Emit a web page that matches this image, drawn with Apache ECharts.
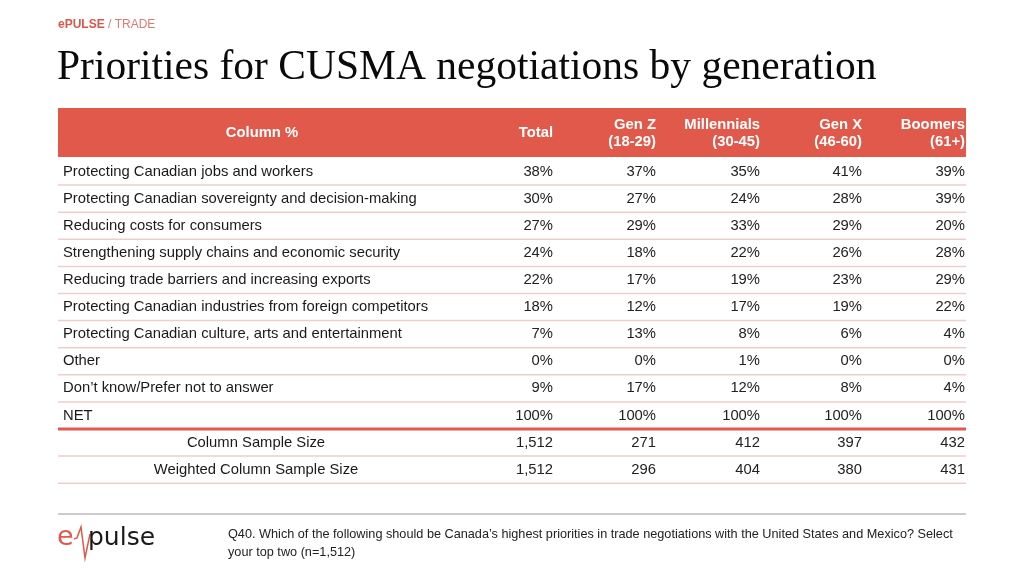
<!DOCTYPE html>
<html>
<head>
<meta charset="utf-8">
<script src="https://cdn.jsdelivr.net/npm/echarts@6/dist/echarts.min.js"></script>
<style>
html, body { margin: 0; padding: 0; background: #fff; }
#main { width: 1024px; height: 576px; }
</style>
</head>
<body>
<div id="main"></div>
<script>
// 表格数据
var categories = [
    'Protecting Canadian jobs and workers',
    'Protecting Canadian sovereignty and decision-making',
    'Reducing costs for consumers',
    'Strengthening supply chains and economic security',
    'Reducing trade barriers and increasing exports',
    'Protecting Canadian industries from foreign competitors',
    'Protecting Canadian culture, arts and entertainment',
    'Other',
    'Don\u2019t know/Prefer not to answer',
    'NET'
];
var columns = ['Total', 'Gen Z\n(18-29)', 'Millennials\n(30-45)', 'Gen X\n(46-60)', 'Boomers\n(61+)'];
var total       = [38, 30, 27, 24, 22, 18, 7, 0, 9, 100];
var genZ        = [37, 27, 29, 18, 17, 12, 13, 0, 17, 100];
var millennials = [35, 24, 33, 22, 19, 17, 8, 1, 12, 100];
var genX        = [41, 28, 29, 26, 23, 19, 6, 0, 8, 100];
var boomers     = [39, 39, 20, 28, 29, 22, 4, 0, 4, 100];
var sampleLabels = ['Column Sample Size', 'Weighted Column Sample Size'];
var sampleSize   = [1512, 271, 412, 397, 432];
var weightedSize = [1512, 296, 404, 380, 431];

var series5 = [total, genZ, millennials, genX, boomers];
var rowNames = categories.concat(sampleLabels);

// 列右边界（x轴上的位置）
var colRight = [495, 598, 702, 804, 907];
var TABLE_W = 908;
var RED = '#E0594A';
var BODY_FONT = '14.8px "Liberation Sans"';

function fmt(n) {
    return n.toLocaleString('en-US');
}

function cellValues(i) {
    if (i < categories.length) {
        return series5.map(function (s) { return s[i] + '%'; });
    }
    var src = i === categories.length ? sampleSize : weightedSize;
    return src.map(fmt);
}

var myChart = echarts.init(document.getElementById('main'));

var option = {
    backgroundColor: '#fff',
    animation: false,
    grid: { left: 58, right: 58, top: 158, height: 12 * 27.1 },
    xAxis: { type: 'value', min: 0, max: TABLE_W, show: false },
    yAxis: { type: 'category', data: rowNames, inverse: true, show: false },
    graphic: [
        { type: 'text', left: 58, top: 19, style: {
            text: '{a|ePULSE}{b| / TRADE}',
            rich: {
                a: { fontFamily: 'Liberation Sans', fontSize: 12, fontWeight: 'bold', fill: '#D9574A' },
                b: { fontFamily: 'Liberation Sans', fontSize: 12, fill: '#E07A70' }
            }
        } },
        { type: 'text', left: 57, top: 47, style: {
            text: 'Priorities for CUSMA negotiations by generation',
            font: '41.5px "Liberation Serif"', fill: '#0a0a0a'
        } },
        { type: 'rect', shape: { x: 58, y: 108, width: TABLE_W, height: 49 }, style: { fill: RED } },
        { type: 'text', x: 262, y: 133, style: {
            text: 'Column %', font: 'bold 14.8px "Liberation Sans"', fill: '#fff',
            align: 'center', verticalAlign: 'middle'
        } }
    ].concat(columns.map(function (c, j) {
        return { type: 'text', x: 58 + colRight[j], y: 133, style: {
            text: c, font: 'bold 14.8px "Liberation Sans"', fill: '#fff',
            align: 'right', verticalAlign: 'middle', lineHeight: 17
        } };
    })).concat([
        { type: 'line', shape: { x1: 58, y1: 514, x2: 966, y2: 514 }, style: { stroke: '#999', lineWidth: 1 } },
        { type: 'text', x: 57, y: 538, style: {
            text: 'e', font: '27px "DejaVu Sans"', fill: '#E0594A', verticalAlign: 'middle'
        } },
        { type: 'polyline', shape: { points: [[74, 539], [77, 538], [81, 527], [85, 558], [90, 534]] },
          style: { stroke: '#E0594A', lineWidth: 1.5, fill: null } },
        { type: 'text', x: 88, y: 538, style: {
            text: 'pulse', font: '25px "DejaVu Sans"', fill: '#1a1a1a', verticalAlign: 'middle'
        } },
        { type: 'text', x: 228, y: 525, style: {
            text: 'Q40. Which of the following should be Canada\u2019s highest priorities in trade negotiations with the United States and Mexico? Select\nyour top two (n=1,512)',
            font: '12.7px "Liberation Sans"', fill: '#222', lineHeight: 18
        } }
    ]),
    series: [
        {
            type: 'custom',
            coordinateSystem: 'cartesian2d',
            silent: true,
            data: rowNames.map(function (n, i) { return [0, i]; }),
            renderItem: function (params, api) {
                var i = params.dataIndex;
                var p = api.coord([0, i]);
                var band = api.size([0, 1])[1];
                var right = api.coord([TABLE_W, i])[0];
                var isSample = i >= categories.length;
                var children = [];
                children.push({
                    type: 'text',
                    style: {
                        text: rowNames[i],
                        x: isSample ? p[0] + 198 : p[0] + 5,
                        y: p[1],
                        align: isSample ? 'center' : 'left',
                        verticalAlign: 'middle',
                        font: BODY_FONT,
                        fill: '#1a1a1a'
                    }
                });
                cellValues(i).forEach(function (v, j) {
                    children.push({
                        type: 'text',
                        style: {
                            text: v,
                            x: api.coord([colRight[j], i])[0],
                            y: p[1],
                            align: 'right',
                            verticalAlign: 'middle',
                            font: BODY_FONT,
                            fill: '#222'
                        }
                    });
                });
                var yl = p[1] + band / 2;
                var isNet = i === categories.length - 1;
                children.push({
                    type: 'line',
                    shape: { x1: p[0], y1: yl, x2: right, y2: yl },
                    style: { stroke: isNet ? RED : '#EBCFCA', lineWidth: isNet ? 3 : 1.5 }
                });
                return { type: 'group', children: children };
            }
        }
    ]
};

myChart.setOption(option);
</script>
</body>
</html>
